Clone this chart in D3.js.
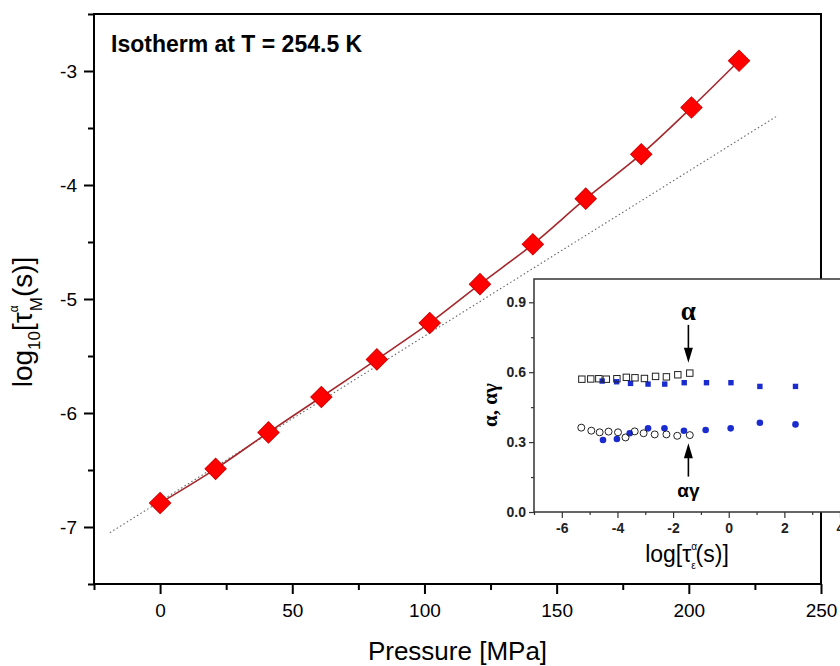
<!DOCTYPE html>
<html lang="en">
<head>
<meta charset="UTF-8">
<title>Isotherm at T = 254.5 K</title>
<script src="https://cdn.jsdelivr.net/npm/d3@7"></script>
<style>
  body { margin: 0; background: #fff; }
  text { font-family: Arial, "Liberation Sans", sans-serif; }
</style>
</head>
<body>
<div id="chart"></div>
<script>
// main plot: log10 tau vs pressure
const pressure = [0, 21, 41, 61, 82, 102, 121, 141, 161, 182, 201, 219];
const logTau = [-6.79, -6.49, -6.17, -5.86, -5.53, -5.21, -4.87, -4.52, -4.12, -3.73, -3.32, -2.91];
// dotted straight line (low pressure fit)
const fitP = [-19, 233];
const fitLogTau = [-7.05, -3.40];
const xMajor = [0, 50, 100, 150, 200, 250];
const xMinor = [-25, 25, 75, 125, 175, 225];
const yMajor = [-7, -6, -5, -4, -3];
const yMinor = [-7.5, -6.5, -5.5, -4.5, -3.5, -2.5];

// inset: stretching parameters vs log tau
const openSqX = [-5.28, -4.96, -4.67, -4.40, -4.02, -3.68, -3.37, -3.03, -2.63, -2.24, -1.83, -1.40];
const openSqY = [0.570, 0.571, 0.572, 0.570, 0.572, 0.578, 0.576, 0.573, 0.582, 0.580, 0.589, 0.596];
const blueSqX = [-4.55, -4.03, -3.53, -2.90, -2.30, -1.60, -0.80, 0.08, 1.12, 2.40];
const blueSqY = [0.562, 0.559, 0.552, 0.549, 0.549, 0.555, 0.555, 0.555, 0.539, 0.539];
const openCiX = [-5.30, -4.94, -4.64, -4.32, -3.98, -3.71, -3.38, -3.06, -2.66, -2.24, -1.85, -1.40];
const openCiY = [0.362, 0.349, 0.342, 0.345, 0.342, 0.320, 0.346, 0.338, 0.333, 0.333, 0.327, 0.330];
const blueCiX = [-4.52, -4.02, -3.56, -2.90, -2.31, -1.61, -0.83, 0.07, 1.12, 2.40];
const blueCiY = [0.309, 0.313, 0.338, 0.359, 0.359, 0.349, 0.352, 0.359, 0.383, 0.376];
const inXMajor = [-6, -4, -2, 0, 2, 4];
const inXMinor = [-7, -5, -3, -1, 1, 3];
const inYMajor = [0, 0.3, 0.6, 0.9];
const inYMinor = [0.15, 0.45, 0.75];

const W = 840, H = 666;
const svg = d3.select("#chart").append("svg")
  .attr("width", W).attr("height", H);

const L = 94, R = 821, T = 14, B = 584;
const x = d3.scaleLinear().domain([-25, 250]).range([L, R]);
const y = d3.scaleLinear().domain([-7.5, -2.5]).range([B, T]);

function styleAxis(g, size) {
  g.select(".domain").remove();
  g.selectAll(".tick line").attr("stroke", "#000").attr("stroke-width", 2);
  g.selectAll("text").attr("font-size", size).attr("fill", "#000");
}

// axes
const gx = svg.append("g").attr("transform", `translate(0,${B})`);
gx.call(d3.axisBottom(x).tickValues(xMajor).tickSize(10).tickPadding(10).tickFormat(d => d));
styleAxis(gx, 19);
const gx2 = svg.append("g").attr("transform", `translate(0,${B})`);
gx2.call(d3.axisBottom(x).tickValues(xMinor).tickSize(6).tickFormat(""));
styleAxis(gx2, 19);

const gy = svg.append("g").attr("transform", `translate(${L},0)`);
gy.call(d3.axisLeft(y).tickValues(yMajor).tickSize(10).tickPadding(7).tickFormat(d => d));
styleAxis(gy, 19);
const gy2 = svg.append("g").attr("transform", `translate(${L},0)`);
gy2.call(d3.axisLeft(y).tickValues(yMinor).tickSize(6).tickFormat(""));
styleAxis(gy2, 19);

svg.append("rect")
  .attr("x", L).attr("y", T).attr("width", R - L).attr("height", B - T)
  .attr("fill", "none").attr("stroke", "#000").attr("stroke-width", 2);

// dotted fit line
svg.append("path")
  .datum(fitP.map((p, i) => [p, fitLogTau[i]]))
  .attr("d", d3.line().x(d => x(d[0])).y(d => y(d[1])))
  .attr("fill", "none").attr("stroke", "#666")
  .attr("stroke-width", 1.1).attr("stroke-dasharray", "1.5,2.5");

// red curve + diamonds
const pts = pressure.map((p, i) => [p, logTau[i]]);
svg.append("path")
  .datum(pts)
  .attr("d", d3.line().x(d => x(d[0])).y(d => y(d[1])).curve(d3.curveCatmullRom))
  .attr("fill", "none").attr("stroke", "#a5282c").attr("stroke-width", 1.6);

svg.selectAll(".dia")
  .data(pts)
  .enter().append("path")
  .attr("class", "dia")
  .attr("d", d3.symbol(d3.symbolSquare, 225))
  .attr("transform", d => `translate(${x(d[0])},${y(d[1])}) rotate(45)`)
  .attr("fill", "#ff0000").attr("stroke", "#d40000").attr("stroke-width", 1);

// title and axis titles
svg.append("text")
  .attr("x", 111).attr("y", 52)
  .attr("font-size", 23).attr("font-weight", "bold")
  .text("Isotherm at T = 254.5 K");

svg.append("text")
  .attr("x", (L + R) / 2).attr("y", 660)
  .attr("text-anchor", "middle").attr("font-size", 26)
  .text("Pressure [MPa]");

const yl = svg.append("text")
  .attr("transform", "translate(32,322) rotate(-90)")
  .attr("text-anchor", "middle").attr("font-size", 28);
yl.append("tspan").text("log");
yl.append("tspan").attr("font-size", 17).attr("dy", 8).text("10");
yl.append("tspan").attr("dy", -8).text("[τ");
yl.append("tspan").attr("font-size", 12).attr("dy", -14).text("α");
yl.append("tspan").attr("font-size", 17).attr("dx", -6).attr("dy", 24).text("M");
yl.append("tspan").attr("dy", -10).text("(s)]");

// ---------- inset ----------
const iL = 534, iR = 840, iT = 279, iB = 512;
const ix = d3.scaleLinear().domain([-7, 4]).range([iL, iR]);
const iy = d3.scaleLinear().domain([0, 1.0]).range([iB, iT]);

svg.append("rect")
  .attr("x", iL).attr("y", iT).attr("width", iR - iL + 4).attr("height", iB - iT)
  .attr("fill", "#fff").attr("stroke", "#333").attr("stroke-width", 1.5);

function styleInset(g) {
  g.select(".domain").remove();
  g.selectAll(".tick line").attr("stroke", "#333").attr("stroke-width", 1.2);
  g.selectAll("text").attr("font-size", 14).attr("font-weight", "bold").attr("fill", "#222");
}

const igx = svg.append("g").attr("transform", `translate(0,${iB})`);
igx.call(d3.axisBottom(ix).tickValues(inXMajor).tickSize(6).tickPadding(5).tickFormat(d => d));
styleInset(igx);
const igx2 = svg.append("g").attr("transform", `translate(0,${iB})`);
igx2.call(d3.axisBottom(ix).tickValues(inXMinor).tickSize(3).tickFormat(""));
styleInset(igx2);

const igy = svg.append("g").attr("transform", `translate(${iL},0)`);
igy.call(d3.axisLeft(iy).tickValues(inYMajor).tickSize(5).tickPadding(3).tickFormat(d3.format(".1f")));
styleInset(igy);
const igy2 = svg.append("g").attr("transform", `translate(${iL},0)`);
igy2.call(d3.axisLeft(iy).tickValues(inYMinor).tickSize(3).tickFormat(""));
styleInset(igy2);

const blue = "#1a2ccf";

svg.selectAll(".bsq")
  .data(blueSqX.map((v, i) => [v, blueSqY[i]]))
  .enter().append("rect")
  .attr("x", d => ix(d[0]) - 2.7).attr("y", d => iy(d[1]) - 2.7)
  .attr("width", 5.4).attr("height", 5.4).attr("fill", blue);

svg.selectAll(".bci")
  .data(blueCiX.map((v, i) => [v, blueCiY[i]]))
  .enter().append("circle")
  .attr("cx", d => ix(d[0])).attr("cy", d => iy(d[1]))
  .attr("r", 3.3).attr("fill", blue);

svg.selectAll(".osq")
  .data(openSqX.map((v, i) => [v, openSqY[i]]))
  .enter().append("rect")
  .attr("x", d => ix(d[0]) - 3.2).attr("y", d => iy(d[1]) - 3.2)
  .attr("width", 6.4).attr("height", 6.4)
  .attr("fill", "none").attr("stroke", "#222").attr("stroke-width", 1);

svg.selectAll(".oci")
  .data(openCiX.map((v, i) => [v, openCiY[i]]))
  .enter().append("circle")
  .attr("cx", d => ix(d[0])).attr("cy", d => iy(d[1]))
  .attr("r", 3.5)
  .attr("fill", "none").attr("stroke", "#222").attr("stroke-width", 1);

// arrows
function arrow(xv, fromV, toV) {
  const x0 = ix(xv), y0 = iy(fromV), y1 = iy(toV);
  const dir = y1 > y0 ? 1 : -1;
  svg.append("line")
    .attr("x1", x0).attr("x2", x0).attr("y1", y0).attr("y2", y1 - dir * 10)
    .attr("stroke", "#000").attr("stroke-width", 1.6);
  svg.append("path")
    .attr("d", `M${x0},${y1} L${x0 - 4.5},${y1 - dir * 15} L${x0 + 4.5},${y1 - dir * 15} Z`)
    .attr("fill", "#000");
}
arrow(-1.45, 0.803, 0.641);
arrow(-1.45, 0.152, 0.295);

svg.append("text")
  .attr("x", ix(-1.45)).attr("y", 320)
  .attr("text-anchor", "middle").attr("font-size", 27).attr("font-weight", "bold")
  .style("font-family", "'Liberation Serif', 'DejaVu Serif', serif")
  .text("α");

svg.append("text")
  .attr("x", ix(-1.45)).attr("y", 497)
  .attr("text-anchor", "middle").attr("font-size", 19).attr("font-weight", "bold")
  .text("αγ");

// inset axis titles
svg.append("text")
  .attr("transform", "translate(497,405) rotate(-90)")
  .attr("text-anchor", "middle").attr("font-size", 21).attr("font-weight", "bold")
  .style("font-family", "'Liberation Serif', 'DejaVu Serif', serif")
  .text("α, αγ");

const xl = svg.append("text")
  .attr("x", 687).attr("y", 562)
  .attr("text-anchor", "middle").attr("font-size", 23);
xl.append("tspan").text("log[τ");
xl.append("tspan").attr("font-size", 10).attr("dy", -12).text("α");
xl.append("tspan").attr("font-size", 10).attr("dx", -6).attr("dy", 19).text("ε");
xl.append("tspan").attr("dy", -7).text("(s)]");
</script>
</body>
</html>
